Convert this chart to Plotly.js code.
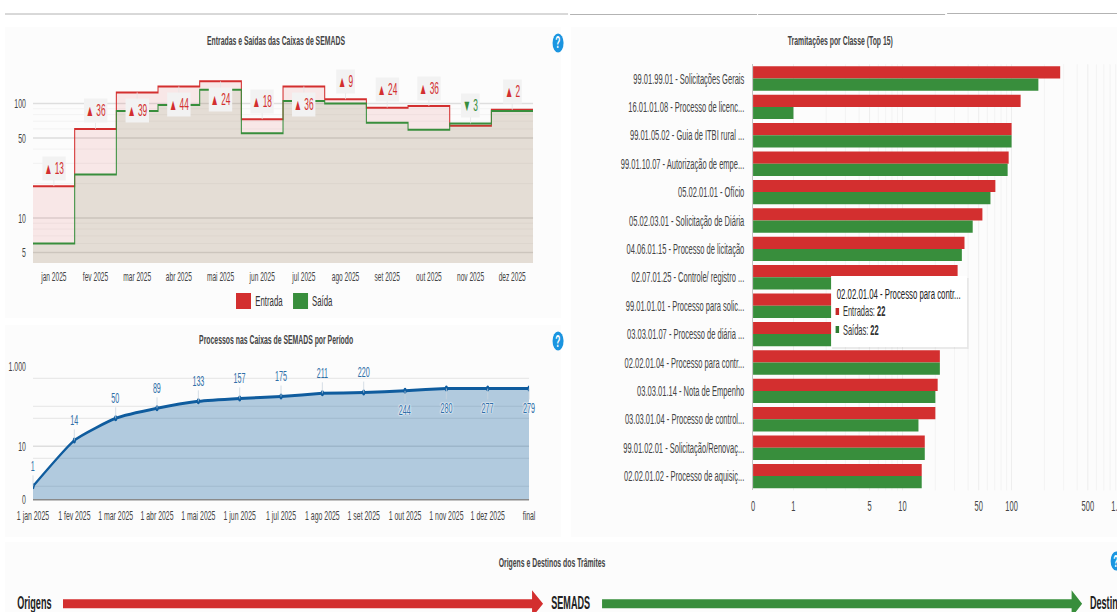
<!DOCTYPE html>
<html><head><meta charset="utf-8">
<script src="https://cdn.plot.ly/plotly-3.0.1.min.js"></script>
<style>
html,body{margin:0;padding:0;width:1117px;height:612px;overflow:hidden;background:#fff}
#wrap{width:1117px;height:612px;overflow:hidden;position:relative}
#chart{position:absolute;left:0;top:0;transform:scaleX(0.52);transform-origin:0 0}
</style></head><body><div id="wrap"><div id="chart"></div></div>
<script>
// ---- data ----
const months = ['jan 2025','fev 2025','mar 2025','abr 2025','mai 2025','jun 2025','jul 2025','ago 2025','set 2025','out 2025','nov 2025','dez 2025'];
const entradaMes = [19,60,125,141,156,73,141,109,92,95,64,88];
const saidaMes   = [6,24,86,97,132,55,105,100,68,59,67,86];
const saldoMes   = [13,36,39,44,24,18,36,9,24,36,3,2];
const saldoSinal = ['up','up','up','up','up','up','up','up','up','up','down','up'];
const saldoAbaixo= [false,false,true,true,true,false,true,false,false,false,false,false];

const periodos = ['1 jan 2025','1 fev 2025','1 mar 2025','1 abr 2025','1 mai 2025','1 jun 2025','1 jul 2025','1 ago 2025','1 set 2025','1 out 2025','1 nov 2025','1 dez 2025','final'];
const processos = [1,14,50,89,133,157,175,211,220,244,280,277,279];

const classes = ['99.01.99.01 - Solicitações Gerais','16.01.01.08 - Processo de licenc...','99.01.05.02 - Guia de ITBI rural ...','99.01.10.07 - Autorização de empe...','05.02.01.01 - Ofício','05.02.03.01 - Solicitação de Diária','04.06.01.15 - Processo de licitação','02.07.01.25 - Controle/ registro ...','99.01.01.01 - Processo para solic...','03.03.01.07 - Processo de diária ...','02.02.01.04 - Processo para contr...','03.03.01.14 - Nota de Empenho','03.03.01.04 - Processo de control...','99.01.02.01 - Solicitação/Renovaç...','02.02.01.02 - Processo de aquisiç...'];
const entradasClasse = [279,121,100,94,71,54,37,32,29,26,22,21,20,16,15];
const saidasClasse   = [176,1,100,92,64,44,35,30,28,25,22,20,14,16,15];

// ---- frame: drawn wider, then narrowed as a whole as in the reference ----
const S = 0.52, PW = 1160, PH = 640;
const FONT = '"Liberation Sans", Arial, sans-serif';
const RED = '#d32f2f', GREEN = '#388e3c', BLUE = '#0f5c9e';
const fx = p => p / PW, fy = p => 1 - p / PH;
const dx = (a, b) => [fx(a), fx(b)], dy = (top, bot) => [fy(bot), fy(top)];

const shapes = [], annotations = [];
const rect = (x0,y0,x1,y1,fill,layer) => shapes.push({type:'rect',xref:'paper',yref:'paper',x0:fx(x0),x1:fx(x1),y0:fy(y0),y1:fy(y1),fillcolor:fill,line:{width:0},layer:layer||'below'});
const hline = (x0,x1,y,c) => shapes.push({type:'line',xref:'paper',yref:'paper',x0:fx(x0),x1:fx(x1),y0:fy(y),y1:fy(y),line:{color:c,width:1},layer:'below'});
const text = (t,x,y,size,color,anchor,bold) => annotations.push({text:bold?'<b>'+t+'</b>':t,xref:'paper',yref:'paper',x:fx(x),y:fy(y),xanchor:anchor||'center',yanchor:'middle',showarrow:false,font:{family:FONT,size,color:color||'#333'}});
function help(cx,cy){
  shapes.push({type:'circle',xref:'paper',yref:'paper',x0:fx(cx-5.5),x1:fx(cx+5.5),y0:fy(cy-9.5),y1:fy(cy+9.5),fillcolor:'#1b95e0',line:{width:0},layer:'above'});
  text('?',cx,cy,16,'#fff','center',true);
}
function arrow(x0,x1,head,cy,color){
  const X=fx, Y=fy;
  shapes.push({type:'path',xref:'paper',yref:'paper',fillcolor:color,line:{width:0},layer:'above',
   path:`M ${X(x0)} ${Y(cy-4.5)} L ${X(head)} ${Y(cy-4.5)} L ${X(head)} ${Y(cy-13.5)} L ${X(x1)} ${Y(cy)} L ${X(head)} ${Y(cy+13.5)} L ${X(head)} ${Y(cy+4.5)} L ${X(x0)} ${Y(cy+4.5)} Z`});
}

// panels and header rules
rect(5,27,561,318,'#fcfcfc'); rect(5,325,561,537,'#fcfcfc');
rect(571,27,1160,537,'#fcfcfc'); rect(5,542,1160,640,'#fcfcfc');
hline(5,568,14,'#9a9a9a'); hline(570,757,14.5,'#9a9a9a'); hline(758,945,14.5,'#9a9a9a'); hline(947,1160,13.5,'#9a9a9a');

// titles
text('Entradas e Saídas das Caixas de SEMADS',276,40,13.2,'#444','center',true);
text('Processos nas Caixas de SEMADS por Período',276,339.5,13.2,'#444','center',true);
text('Tramitações por Classe (Top 15)',840,40,13.2,'#444','center',true);
text('Origens e Destinos dos Trâmites',552,562.5,13.2,'#444','center',true);
help(558,43); help(558,341); help(1116,561);

// ---- chart 1: step lines ----
const edges = []; months.forEach((m,i)=>{edges.push(i-0.5)}); edges.push(months.length-0.5);
const closed = a => a.concat([a[a.length-1]]);
const traces = [
 {type:'scatter',mode:'lines',xaxis:'x',yaxis:'y',x:edges,y:closed(entradaMes),name:'Entrada',line:{shape:'hv',color:RED,width:2},fill:'tozeroy',fillcolor:'rgba(211,47,47,0.1)',showlegend:false},
 {type:'scatter',mode:'lines',xaxis:'x',yaxis:'y',x:edges,y:closed(saidaMes),name:'Saída',line:{shape:'hv',color:GREEN,width:2},fill:'tozeroy',fillcolor:'rgba(56,142,60,0.1)',showlegend:false}
];
months.forEach((m,i)=>{
  const up = saldoSinal[i]==='up', c = up?RED:GREEN, below = saldoAbaixo[i];
  const ref = below ? entradaMes[i] : Math.max(entradaMes[i],saidaMes[i]);
  annotations.push({xref:'x',yref:'y',x:i,y:Math.log10(ref),text:(up?'▲':'▼')+' '+saldoMes[i],showarrow:true,arrowhead:0,arrowwidth:1,arrowcolor:'#e4e4e4',ax:0,ay:below?18:-18,
    bgcolor:'#f2f2f2',borderpad:3,font:{family:FONT,size:16,color:c}});
});
shapes.push({type:'line',xref:'x',yref:'y',x0:5.5,x1:5.5,y0:0.608,y1:Math.log10(105),line:{color:'rgba(120,110,100,0.25)',width:1.5},layer:'above'});
rect(236,293,251,309,RED,'above'); rect(293,293,308,309,GREEN,'above');
text('Entrada',254,300.5,15,'#333','left'); text('Saída',311,300.5,15,'#333','left');

// ---- chart 2: area ----
traces.push({type:'scatter',mode:'lines+markers',xaxis:'x2',yaxis:'y2',x:periodos,y:processos,line:{color:BLUE,width:3,shape:'spline',smoothing:0.5},marker:{color:BLUE,size:6},fill:'tozeroy',fillcolor:'rgba(24,100,160,0.33)',showlegend:false});
periodos.forEach((p,i)=>{
  const below = i>=9;
  annotations.push({xref:'x2',yref:'y2',x:p,y:Math.log10(processos[i]),text:String(processos[i]),showarrow:true,arrowhead:0,arrowwidth:1,arrowcolor:'#c9d4de',ax:0,ay:below?20:-20,borderpad:1,
    font:{family:FONT,size:13.8,color:'#2f6fa8',shadow:below?'0 0 2px #fff, 0 0 2px #fff, 0 0 2px #fff':'none'}});
});

// ---- chart 3: bars ----
traces.push({type:'bar',orientation:'h',xaxis:'x3',yaxis:'y3',y:classes,x:entradasClasse,name:'Entradas',marker:{color:RED},showlegend:false});
traces.push({type:'bar',orientation:'h',xaxis:'x3',yaxis:'y3',y:classes,x:saidasClasse,name:'Saídas',marker:{color:GREEN},showlegend:false});

// tooltip box
rect(832,278,968.5,349,'rgba(0,0,0,0.07)','above');
rect(831,276,967,347,'#ffffff','above');
text(classes[10],835.5,293,15,'#222','left');
rect(835.5,308,839,315,'#c62828','above'); rect(835.5,326,839,333,'#2e7d32','above');
text('Entradas: <b>'+entradasClasse[10]+'</b>',842,311,14.4,'#333','left');
text('Saídas: <b>'+saidasClasse[10]+'</b>',842,330,14.4,'#333','left');

// ---- flow row ----
text('Origens',16,603,17.5,'#222','left',true);
arrow(63,543,532,603.8,RED);
text('SEMADS',550,603,17.5,'#222','left',true);
arrow(602,1082,1071.5,603.8,GREEN);
text('Destinos',1089,603,17.5,'#222','left',true);

const gridMain = '#dedede', gridMinor = '#efefef';
const tickFont = s => ({family:FONT,size:s,color:'#444'});
const layout = {
  width: PW/S, height: PH, margin:{l:0,r:0,t:0,b:0}, paper_bgcolor:'#ffffff', plot_bgcolor:'rgba(0,0,0,0)',
  barmode:'group', bargap:0.14, bargroupgap:0, showlegend:false, hovermode:false, font:{family:FONT},
  shapes, annotations,
  xaxis:{domain:dx(33,533),anchor:'y',range:[-0.5,11.5],tickmode:'array',tickvals:months.map((m,i)=>i),ticktext:months,showgrid:false,zeroline:false,showline:false,ticks:'outside',ticklen:2,tickcolor:'rgba(0,0,0,0)',tickfont:tickFont(12.7)},
  yaxis:{domain:dy(69,263),anchor:'x',type:'log',range:[0.608,2.301],tickmode:'array',tickvals:[5,10,50,100,200],ticktext:['5','10','50','100',''],gridcolor:gridMain,gridwidth:1.5,zeroline:false,showline:false,ticks:'outside',ticklen:10,tickcolor:'rgba(0,0,0,0)',tickfont:tickFont(13.3),
    minor:{tickmode:'array',tickvals:[6,7,8,9,20,30,40,60,70,80,90],showgrid:true,gridcolor:gridMinor,gridwidth:1,ticks:''}},
  xaxis2:{domain:dx(33,529),anchor:'y2',type:'category',categoryorder:'array',categoryarray:periodos,range:[0,12],showgrid:false,zeroline:false,showline:false,ticks:'outside',ticklen:3,tickcolor:'rgba(0,0,0,0)',tickfont:tickFont(13.3)},
  yaxis2:{domain:dy(366.3,499.7),anchor:'x2',type:'log',range:[-0.335,3],tickmode:'array',tickvals:[0.4624,10,1000],ticktext:['0','10','1.000'],gridcolor:gridMain,gridwidth:1.5,zeroline:false,showline:false,ticks:'outside',ticklen:10,tickcolor:'rgba(0,0,0,0)',tickfont:tickFont(13.3),
    minor:{tickmode:'array',tickvals:[1,5,50,100,500],showgrid:true,gridcolor:gridMain,gridwidth:1,ticks:''}},
  xaxis3:{domain:dx(753,1150),anchor:'y3',type:'log',range:[-0.37,3.27],tickmode:'array',tickvals:[0.4266,1,5,10,50,100,500,1000],ticktext:['0','1','5','10','50','100','500','1.000'],gridcolor:'#e9e9e9',gridwidth:1.5,zeroline:false,showline:false,ticks:'outside',ticklen:2,tickcolor:'rgba(0,0,0,0)',tickfont:tickFont(14.4),
    minor:{tickmode:'array',tickvals:[2,3,4,6,7,8,9,20,30,40,60,70,80,90,200,300,400,600,700,800,900],showgrid:true,gridcolor:'#f1f1f1',gridwidth:1,ticks:''}},
  yaxis3:{domain:dy(64.3,490.3),anchor:'x3',type:'category',categoryorder:'array',categoryarray:classes,range:[14.5,-0.5],showgrid:false,zeroline:false,showline:true,linecolor:'#c4c4c4',linewidth:2,ticks:'outside',ticklen:12,tickcolor:'rgba(0,0,0,0)',tickfont:tickFont(14.5)}
};
shapes.push({type:'line',xref:'paper',yref:'paper',x0:fx(33),x1:fx(529),y0:fy(499.7),y1:fy(499.7),line:{color:'#8a8a8a',width:1.5},layer:'above'});
Plotly.newPlot('chart',traces,layout,{displayModeBar:false,staticPlot:true});
</script></body></html>
